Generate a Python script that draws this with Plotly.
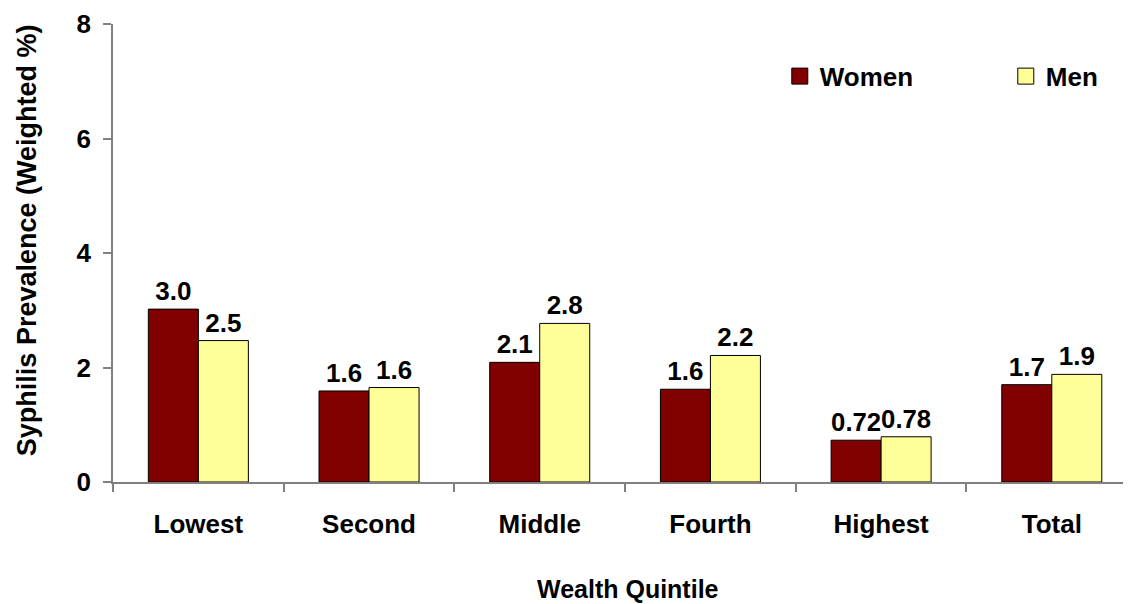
import plotly.graph_objects as go

categories = ["Lowest", "Second", "Middle", "Fourth", "Highest", "Total"]
women = [3.02, 1.59, 2.09, 1.62, 0.73, 1.70]
men = [2.47, 1.65, 2.77, 2.21, 0.79, 1.88]
women_labels = ["3.0", "1.6", "2.1", "1.6", "0.72", "1.7"]
men_labels = ["2.5", "1.6", "2.8", "2.2", "0.78", "1.9"]
x_title = "Wealth Quintile"
y_title = "Syphilis Prevalence (Weighted %)"

FONT = "Liberation Sans, Arial, sans-serif"
WOMEN_COLOR = "#800000"
MEN_COLOR = "#FFFF99"
BOLD26 = dict(family=FONT, size=26, color="black", weight="bold")

fig = go.Figure()
fig.add_trace(go.Bar(
    x=categories, y=women, name="Women", showlegend=False,
    marker=dict(color=WOMEN_COLOR, line=dict(color="black", width=1)),
    text=women_labels, textposition="outside", cliponaxis=False,
    textfont=BOLD26,
))
fig.add_trace(go.Bar(
    x=categories, y=men, name="Men", showlegend=False,
    marker=dict(color=MEN_COLOR, line=dict(color="black", width=1)),
    text=men_labels, textposition="outside", cliponaxis=False,
    textfont=BOLD26,
))
# legend entries with larger square swatches (one legend each to match spacing)
fig.add_trace(go.Scatter(
    x=[None], y=[None], mode="markers", name="Women", legend="legend",
    marker=dict(symbol="square", size=17, color=WOMEN_COLOR, line=dict(color="black", width=1)),
))
fig.add_trace(go.Scatter(
    x=[None], y=[None], mode="markers", name="Men", legend="legend2",
    marker=dict(symbol="square", size=17, color=MEN_COLOR, line=dict(color="black", width=1)),
))

legend_common = dict(
    orientation="h", yanchor="middle", xanchor="left",
    bgcolor="rgba(0,0,0,0)", font=BOLD26,
)

fig.update_layout(
    width=1123, height=596,
    margin=dict(l=105, r=0, t=16, b=122),
    paper_bgcolor="white", plot_bgcolor="white",
    barmode="group", bargap=0.414, bargroupgap=0,
    font=dict(family=FONT, size=24, color="black"),
    showlegend=True,
    legend=dict(x=0.655, y=0.886, **legend_common),
    legend2=dict(x=0.877, y=0.886, **legend_common),
    xaxis=dict(
        type="category", range=[-0.5, 5.464], automargin=False,
        showline=True, linecolor="#808080", linewidth=1.5,
        ticks="outside", tickson="boundaries", ticklen=8, tickcolor="#808080", tickwidth=1.5,
        tickfont=BOLD26, ticklabelstandoff=18,
        showgrid=False,
    ),
    yaxis=dict(
        range=[0, 8], tickvals=[0, 2, 4, 6, 8], automargin=False,
        showline=True, linecolor="#808080", linewidth=1.5,
        ticks="outside", ticklen=8, tickcolor="#808080", tickwidth=1.5,
        tickfont=BOLD26, ticklabelstandoff=7,
        showgrid=False, zeroline=False,
    ),
    annotations=[
        dict(text=x_title, xref="paper", yref="paper", x=0.506, y=-0.233,
             xanchor="center", yanchor="middle", showarrow=False,
             font=dict(family=FONT, size=25, color="black", weight="bold")),
        dict(text=y_title, xref="paper", yref="paper", x=-0.0845, y=0.528,
             xanchor="center", yanchor="middle", showarrow=False, textangle=-90,
             font=dict(family=FONT, size=27, color="black", weight="bold")),
    ],
)

fig.write_html("out.html")
